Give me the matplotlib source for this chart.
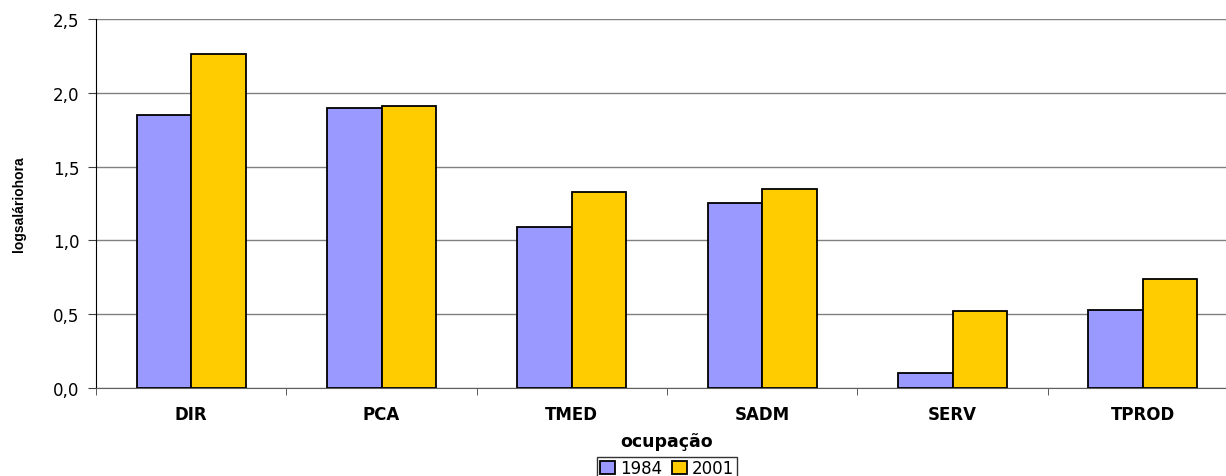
import matplotlib
matplotlib.use("Agg")
import matplotlib.pyplot as plt
import numpy as np

plt.rcParams['font.family'] = ['DejaVu Sans']

categorias = ["DIR", "PCA", "TMED", "SADM", "SERV", "TPROD"]
anos = ["1984", "2001"]
val_1984 = [1.85, 1.90, 1.09, 1.25, 0.10, 0.53]
val_2001 = [2.26, 1.91, 1.33, 1.35, 0.52, 0.74]
cores = ["#9999FF", "#FFCC00"]
yticks = [0.0, 0.5, 1.0, 1.5, 2.0, 2.5]

fig = plt.figure(figsize=(12.26, 4.77), dpi=100)
ax = fig.add_axes([0.0783, 0.1845, 0.9315, 0.7736])

x = np.arange(len(categorias))
w = 0.286
ax.bar(x - w/2, val_1984, w, color=cores[0], edgecolor="black", linewidth=1.3, label=anos[0], zorder=3)
ax.bar(x + w/2, val_2001, w, color=cores[1], edgecolor="black", linewidth=1.3, label=anos[1], zorder=3)

ax.set_xlim(-0.5, len(categorias) - 0.5)
ax.set_ylim(0, 2.5)
ax.set_yticks(yticks)
ax.set_yticklabels([f"{v:.1f}".replace(".", ",") for v in yticks], fontsize=12)
ax.yaxis.grid(True, color="#808080", linewidth=1.0, zorder=0)
ax.set_axisbelow(True)

ax.set_xticks(x)
ax.set_xticklabels(categorias, fontsize=12, fontweight="bold")
ax.tick_params(axis="x", length=0, pad=12)
ax.set_xticks(np.arange(len(categorias) + 1) - 0.5, minor=True)
ax.tick_params(axis="x", which="minor", length=5, color="#404040")
ax.tick_params(axis="y", length=6, color="#404040", pad=6)

for s in ["top", "right"]:
    ax.spines[s].set_visible(False)
ax.spines["left"].set_color("black")
ax.spines["bottom"].set_color("#606060")

ax.set_xlabel("ocupação", fontsize=12.5, fontweight="bold", labelpad=7)
ax.set_ylabel("logsaláriohora", fontsize=10, fontweight="bold", labelpad=19,
              family="Liberation Sans")

leg = fig.legend(loc="upper center", bbox_to_anchor=(667/1226, 1 - 458/477), ncol=2, fontsize=12,
                 frameon=True, fancybox=False, edgecolor="black", handlelength=0.9,
                 handleheight=0.8, handletextpad=0.3, columnspacing=0.6, borderpad=0.15,
                 borderaxespad=0)
leg.get_frame().set_linewidth(1.0)

fig.savefig("out.png", dpi=100)
